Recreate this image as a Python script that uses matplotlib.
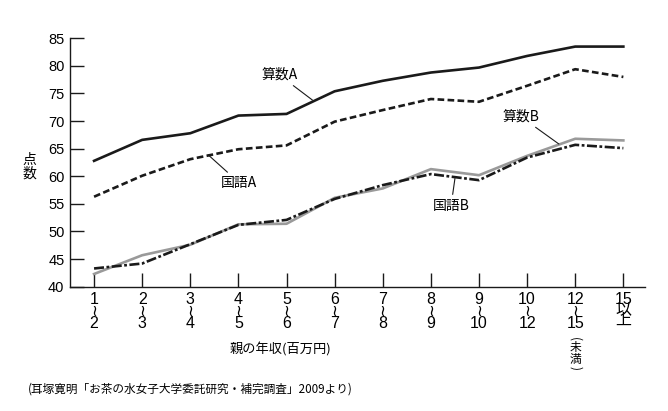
import numpy as np
import matplotlib.pyplot as plt
from matplotlib import font_manager as fm
from matplotlib.transforms import blended_transform_factory

# フォント
jp = 'Noto Sans CJK JP'
names = {f.name for f in fm.fontManager.ttflist}
narrow = 'Liberation Sans Narrow' if 'Liberation Sans Narrow' in names else 'Liberation Sans'
plt.rcParams['font.family'] = [jp, 'DejaVu Sans']
plt.rcParams['lines.scale_dashes'] = False

# データ(親の年収 百万円)
x = np.arange(1, 13)
tick_labels = ['1\n≀\n2', '2\n≀\n3', '3\n≀\n4', '4\n≀\n5', '5\n≀\n6', '6\n≀\n7',
               '7\n≀\n8', '8\n≀\n9', '9\n≀\n10', '10\n≀\n12', '12\n≀\n15', '15\n以\n上']
sansu_a = [62.8, 66.6, 67.8, 71.0, 71.3, 75.4, 77.3, 78.8, 79.7, 81.8, 83.5, 83.5]
kokugo_a = [56.3, 60.1, 63.1, 64.9, 65.6, 69.9, 72.0, 74.0, 73.5, 76.4, 79.4, 78.0]
sansu_b = [42.3, 45.7, 47.6, 51.3, 51.4, 56.1, 57.8, 61.3, 60.2, 63.7, 66.8, 66.5]
kokugo_b = [43.3, 44.2, 47.7, 51.2, 52.1, 55.9, 58.4, 60.4, 59.3, 63.4, 65.7, 65.1]

fig = plt.figure(figsize=(6.68, 4.11), dpi=100)
ax = fig.add_axes([70 / 668, 124.3 / 411, 575 / 668, 248.4 / 411])

ax.plot(x, sansu_b, color='#9a9a9a', lw=1.9)
ax.plot(x, kokugo_b, color='#1a1a1a', lw=1.9, linestyle=(0, (7.2, 1.8, 2.0, 1.8)))
ax.plot(x, kokugo_a, color='#1a1a1a', lw=1.9, linestyle=(0, (4.8, 2.4)))
ax.plot(x, sansu_a, color='#1a1a1a', lw=1.9)

ax.set_xlim(0.5, 12.45)
ax.set_ylim(40, 85)
ax.set_yticks(np.arange(40, 86, 5))
ax.set_xticks(x)
ax.set_xticklabels(tick_labels, family=[narrow, 'DejaVu Sans', jp], fontsize=11.5,
                   linespacing=0.72, va='top')
ax.get_xticklabels()[-1].set_linespacing(0.6)
for lab in ax.get_yticklabels():
    lab.set_family(['Liberation Sans', jp])
    lab.set_fontsize(10.5)
ax.tick_params(axis='both', direction='in', length=10, width=1, color='#1a1a1a')
ax.tick_params(axis='x', pad=4)
ax.tick_params(axis='y', pad=4)
for s in ['top', 'right']:
    ax.spines[s].set_visible(False)
for s in ['left', 'bottom']:
    ax.spines[s].set_linewidth(1)
    ax.spines[s].set_color('#1a1a1a')

# 「12〜15」の下の(未満)を縦書きで
tr = blended_transform_factory(ax.transData, ax.transAxes)


def ypix(py):
    return -(py - 286.7) / 248.4


ax.text(11, ypix(339), '(', transform=tr, fontsize=8.5, ha='center', va='center',
        rotation=-90)
ax.text(11, ypix(353.5), '未\n満', transform=tr, fontsize=8.5, ha='center', va='center',
        linespacing=0.85)
ax.text(11, ypix(368), ')', transform=tr, fontsize=8.5, ha='center', va='center',
        rotation=-90)

# 系列ラベル
arrow = dict(arrowstyle='-', lw=0.8, color='#1a1a1a', shrinkA=1, shrinkB=0)
ax.annotate('算数A', xy=(5.54, 73.8), xytext=(4.85, 78.35), fontsize=10,
            ha='center', va='center', arrowprops=arrow)
ax.annotate('国語A', xy=(3.37, 63.9), xytext=(4.02, 58.8), fontsize=10,
            ha='center', va='center', arrowprops=arrow)
ax.annotate('算数B', xy=(10.66, 65.85), xytext=(9.87, 70.8), fontsize=10,
            ha='center', va='center', arrowprops=arrow)
ax.annotate('国語B', xy=(8.5, 59.6), xytext=(8.42, 54.7), fontsize=10,
            ha='center', va='center', arrowprops=arrow)

fig.text(29 / 668, 1 - 167 / 411, '点\n数', fontsize=10, ha='center', va='center',
         linespacing=1.0)
fig.text(280 / 668, 1 - 350 / 411, '親の年収(百万円)', fontsize=9.5, ha='center', va='center')
fig.text(28 / 668, 1 - 389 / 411, '(耳塚寛明「お茶の水女子大学委託研究・補完調査」2009より)',
         fontsize=8.4, ha='left', va='center')

fig.savefig('out.png', dpi=100)
